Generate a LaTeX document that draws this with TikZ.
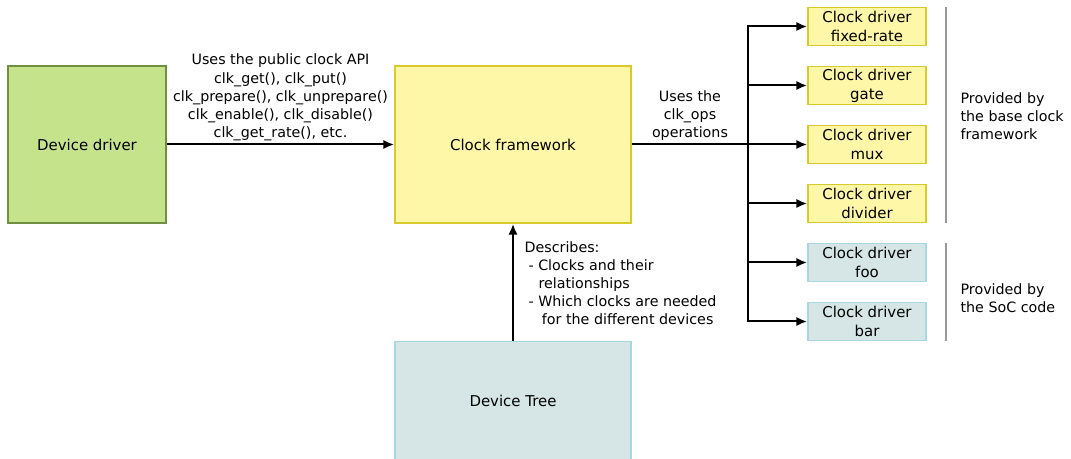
\documentclass[tikz,border=0pt]{standalone}
\usepackage{fontspec}
\setmainfont{DejaVu Sans}
\usetikzlibrary{positioning,arrows.meta}

\definecolor{ddfill}{HTML}{C5E38B}
\definecolor{ddline}{HTML}{6F8F43}
\definecolor{fwfill}{HTML}{FFF7A8}
\definecolor{fwline}{HTML}{D8C92E}
\definecolor{socfill}{HTML}{D6E5E5}
\definecolor{socline}{HTML}{A9D6E3}
\definecolor{sepgray}{HTML}{999999}

\newcommand{\boxfont}{\fontsize{11.2pt}{14.2pt}\selectfont}
\newcommand{\lblfont}{\fontsize{10.7pt}{13.6pt}\selectfont}

\tikzset{
  box/.style={draw, line width=1.4pt, inner sep=0pt, align=center, font=\boxfont},
  bigbox/.style={box, minimum width=177pt, minimum height=117.75pt},
  drvbox/.style={box, minimum width=88.5pt, minimum height=28.5pt},
  basedrv/.style={drvbox, fill=fwfill, draw=fwline},
  socdrv/.style={drvbox, fill=socfill, draw=socline},
  lbl/.style={font=\lblfont, inner sep=1pt},
  arr/.style={->, >={Latex[length=8pt,width=7pt]}, line width=1.5pt},
  sep/.style={draw=sepgray, line width=1.4pt}
}

\begin{document}
\begin{tikzpicture}[x=0.75pt, y=-0.75pt]
  \useasboundingbox (0,0) rectangle (1071,459);

  % main blocks
  \node[bigbox, fill=ddfill, draw=ddline, minimum width=118.5pt] (dd) at (87,144.5) {Device driver};
  \node[bigbox, fill=fwfill, draw=fwline] (fw) at (513,144.5) {Clock framework};
  \node[bigbox, fill=socfill, draw=socline, minimum height=89.25pt] (dt) at (513,401) {Device Tree};

  % clock drivers
  \node[basedrv] (fixed) at (867,26.5) {Clock driver\\fixed-rate};
  \node[basedrv, below=14.35pt of fixed] (gate) {Clock driver\\gate};
  \node[basedrv, below=14.35pt of gate] (mux) {Clock driver\\mux};
  \node[basedrv, below=14.35pt of mux] (divider) {Clock driver\\divider};
  \node[socdrv, below=14.35pt of divider] (foo) {Clock driver\\foo};
  \node[socdrv, below=14.35pt of foo] (bar) {Clock driver\\bar};

  % connectors
  \draw[arr] (dd) -- (fw)
    node[midway, above=1pt, lbl, align=center] {Uses the public clock API\\clk\_get(), clk\_put()\\clk\_prepare(), clk\_unprepare()\\clk\_enable(), clk\_disable()\\clk\_get\_rate(), etc.};
  \coordinate (bus) at (748,144.5);
  \draw[line width=1.5pt] (fw.east) -- (bus)
    node[midway, above=1pt, lbl, align=center] {Uses the\\clk\_ops\\operations};
  \foreach \d in {fixed,gate,mux,divider,foo,bar}
    \draw[arr] (bus) |- (\d.west);
  \draw[arr] (dt) -- (fw);
  \node[lbl, align=left, anchor=north west] (desc) at (523,240)
    {Describes:\\
     \hspace*{3pt}- Clocks and their\\
     \hspace*{10.5pt}relationships\\
     \hspace*{3pt}- Which clocks are needed\\
     \hspace*{13pt}for the different devices};

  % groups
  \draw[sep] (946,7) -- (946,223);
  \draw[sep] (946,243) -- (946,341);
  \node[lbl, align=left, anchor=west] (basetxt) at (959,116) {Provided by\\the base clock\\framework};
  \node[lbl, align=left, anchor=west] (soctxt) at (959,298) {Provided by\\the SoC code};
\end{tikzpicture}
\end{document}
